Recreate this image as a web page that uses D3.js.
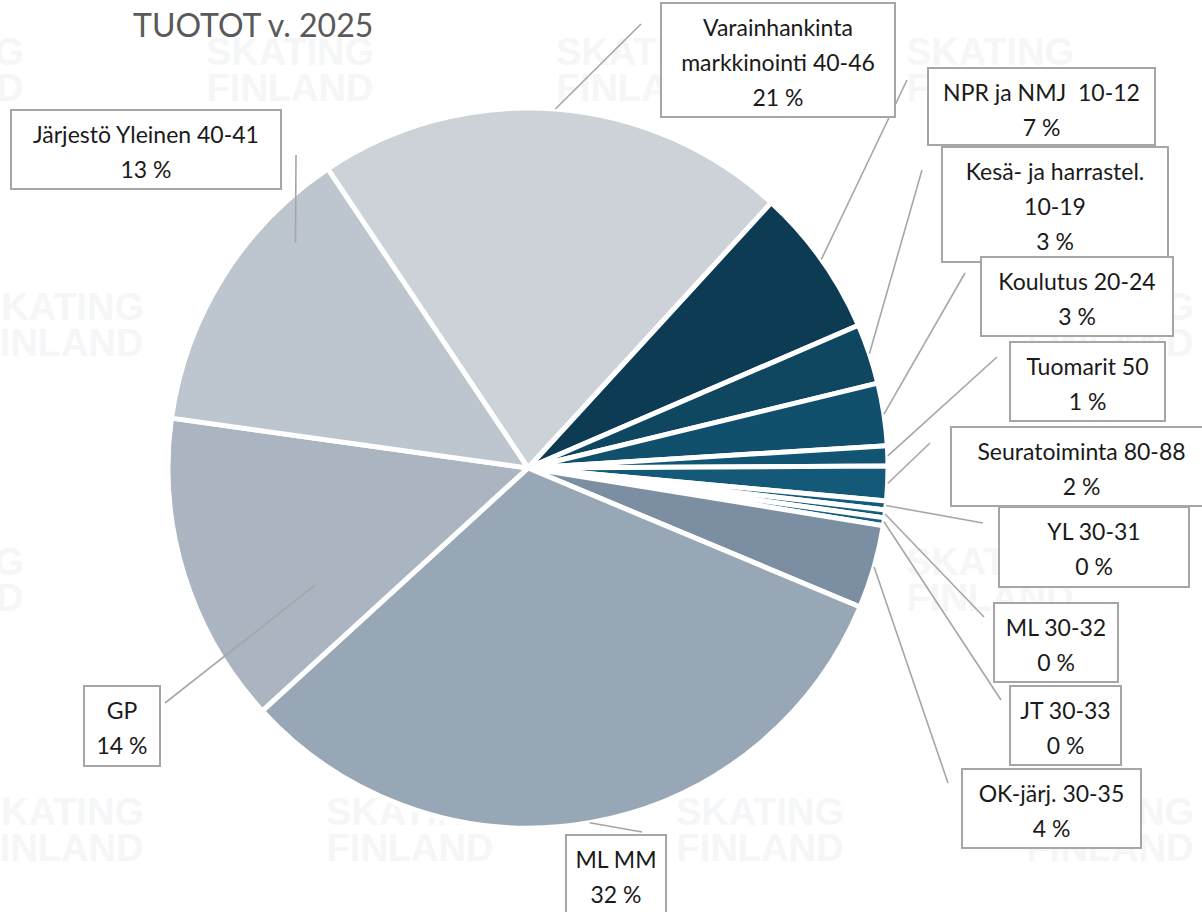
<!DOCTYPE html>
<html>
<head>
<meta charset="utf-8">
<script src="https://cdn.jsdelivr.net/npm/d3@7"></script>
<style>
  body { margin: 0; background: #ffffff; }
  #chart { width: 1202px; height: 912px; }
</style>
</head>
<body>
<div id="chart"></div>
<script>
// data (share of income, %)
const categories = [
    "Varainhankinta\nmarkkinointi 40-46",
    "NPR ja NMJ  10-12",
    "Kesä- ja harrastel.\n10-19",
    "Koulutus 20-24",
    "Tuomarit 50",
    "Seuratoiminta 80-88",
    "YL 30-31",
    "ML 30-32",
    "JT 30-33",
    "OK-järj. 30-35",
    "ML MM",
    "GP",
    "Järjestö Yleinen 40-41"
];
const values = [21.2, 6.7, 2.7, 2.8, 0.9, 1.55, 0.4, 0.35, 0.35, 3.75, 31.9, 14.0, 13.4];
const colors = ["#cdd2d9", "#0c3b53", "#0f4660", "#11506d", "#125473", "#145a78",
                "#155b7b", "#165d7d", "#175f7f", "#7c8fa2", "#97a7b6", "#aab5c1", "#bdc5ce"];
const title = "TUOTOT v. 2025";

// label boxes: [left, top, right, bottom], leader end, leader anchor (fraction across slice, radius factor)
const labelBoxes = [
    [661, 3, 895, 117], [928, 68, 1155, 145], [942, 147, 1168, 262], [981, 257, 1173, 336],
    [1010, 342, 1165, 421], [951, 427, 1212, 506], [999, 507, 1189, 587], [994, 603, 1118, 682],
    [1010, 686, 1121, 765], [962, 769, 1141, 848], [566, 835, 666, 925], [84, 686, 160, 766],
    [11, 110, 281, 189]
];
const leaderEnds = [
    [641, 24], [907, 80], [922, 170], [965, 273], [997, 357], [930, 443], [983, 523],
    [984, 617], [1001, 700], [948, 783], [642, 832], [165, 703], [296, 155]
];
const leaderAnchors = [
    [0.5, 1], [0.5, 1], [0.5, 1], [0.5, 1], [0.5, 1], [0.5, 1], [0.5, 1],
    [0.5, 1], [0.5, 1], [0.5, 1], [0.5, 1], [0.27, 0.675], [0.75, 0.9]
];

const width = 1202, height = 912;
const cx = 528, cy = 468, radius = 360;
const startDeg = -33.8;

const svg = d3.select("#chart").append("svg")
    .attr("width", width)
    .attr("height", height)
    .style("font-family", "Lato, 'Open Sans', sans-serif");

svg.append("rect").attr("width", width).attr("height", height).attr("fill", "#ffffff");

// faint background watermark
const wm = svg.append("g").attr("fill", "#f5f6f8")
    .style("font-family", "'Liberation Sans', Arial, sans-serif")
    .style("font-weight", "bold")
    .style("font-size", "38px")
    .attr("text-anchor", "middle");
const wmRows = [[65, -60], [320, 60], [575, -60], [825, 60]];
wmRows.forEach(([y, off]) => {
    for (let x = off; x < width + 200; x += 350) {
        wm.append("text").attr("x", x).attr("y", y).text("SKATING");
        wm.append("text").attr("x", x).attr("y", y + 36).text("FINLAND");
    }
});

const toRad = Math.PI / 180;
const pie = d3.pie()
    .sort(null)
    .value(d => d)
    .startAngle(startDeg * toRad)
    .endAngle(startDeg * toRad + 2 * Math.PI);
const arcs = pie(values);
const total = d3.sum(values);

const arc = d3.arc().innerRadius(0).outerRadius(radius);

const plot = svg.append("g").attr("transform", "translate(" + cx + "," + cy + ")");

plot.selectAll("path.slice")
    .data(arcs)
    .enter()
    .append("path")
    .attr("class", "slice")
    .attr("d", arc)
    .attr("fill", (d, i) => colors[i])
    .attr("stroke", "#ffffff")
    .attr("stroke-width", 5)
    .attr("stroke-linejoin", "round");

// leader lines
svg.append("g").selectAll("line")
    .data(arcs)
    .enter()
    .append("line")
    .attr("x1", (d, i) => {
        const a = d.startAngle + (d.endAngle - d.startAngle) * leaderAnchors[i][0];
        return cx + Math.sin(a) * radius * leaderAnchors[i][1];
    })
    .attr("y1", (d, i) => {
        const a = d.startAngle + (d.endAngle - d.startAngle) * leaderAnchors[i][0];
        return cy - Math.cos(a) * radius * leaderAnchors[i][1];
    })
    .attr("x2", (d, i) => leaderEnds[i][0])
    .attr("y2", (d, i) => leaderEnds[i][1])
    .attr("stroke", "#a6a6a6")
    .attr("stroke-width", 1.6);

// label boxes
const labels = svg.append("g").selectAll("g.label")
    .data(arcs)
    .enter()
    .append("g")
    .attr("class", "label");

labels.append("rect")
    .attr("x", (d, i) => labelBoxes[i][0])
    .attr("y", (d, i) => labelBoxes[i][1])
    .attr("width", (d, i) => labelBoxes[i][2] - labelBoxes[i][0])
    .attr("height", (d, i) => labelBoxes[i][3] - labelBoxes[i][1])
    .attr("fill", "#ffffff")
    .attr("stroke", "#a6a6a6")
    .attr("stroke-width", 2);

labels.each(function (d, i) {
    const box = labelBoxes[i];
    const lines = categories[i].split("\n");
    lines.push(Math.round(d.value / total * 100) + " %");
    const t = d3.select(this).append("text")
        .attr("text-anchor", "middle")
        .attr("fill", "#1a1a1a")
        .style("font-size", "23px");
    lines.forEach((ln, k) => {
        t.append("tspan")
            .attr("x", (box[0] + box[2]) / 2)
            .attr("y", box[1] + 25 + k * 35)
            .attr("dy", "0.35em")
            .style("white-space", "pre")
            .text(ln);
    });
});

svg.append("text")
    .attr("x", 133)
    .attr("y", 37)
    .attr("fill", "#595959")
    .style("font-size", "32px")
    .text(title);
</script>
</body>
</html>
